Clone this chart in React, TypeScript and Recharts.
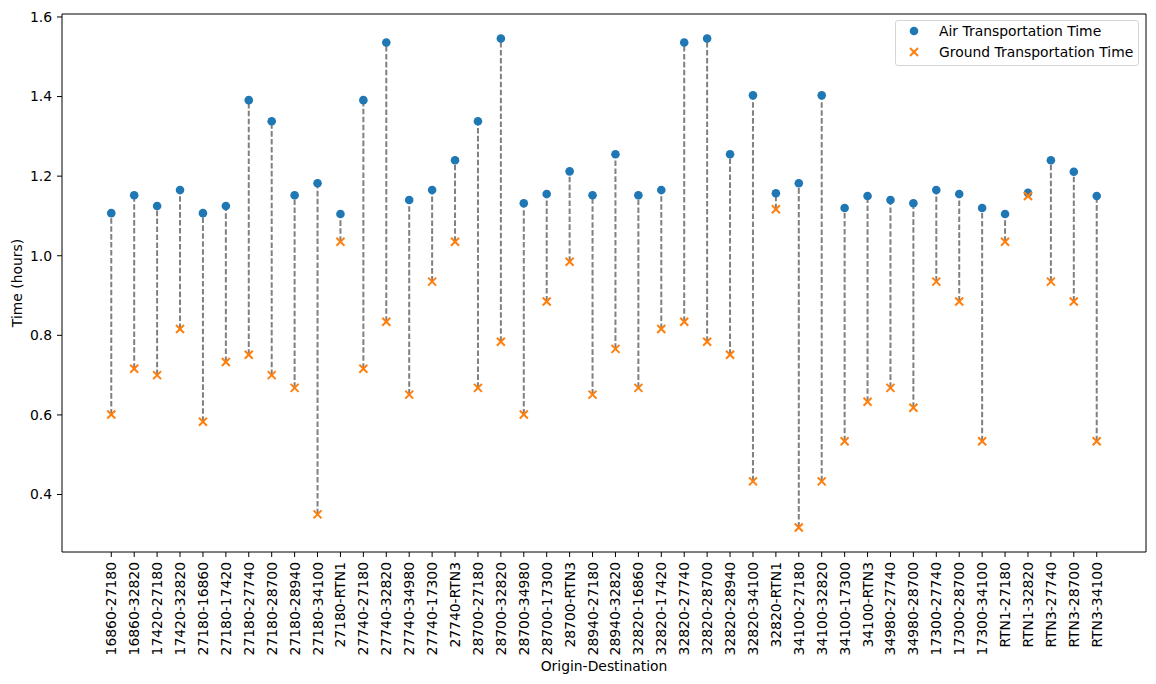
import React from 'react';
import {
  ComposedChart,
  Scatter,
  XAxis,
  YAxis,
  ReferenceLine,
} from 'recharts';

const categories = [
  '16860-27180', '16860-32820', '17420-27180', '17420-32820', '27180-16860',
  '27180-17420', '27180-27740', '27180-28700', '27180-28940', '27180-34100',
  '27180-RTN1', '27740-27180', '27740-32820', '27740-34980', '27740-17300',
  '27740-RTN3', '28700-27180', '28700-32820', '28700-34980', '28700-17300',
  '28700-RTN3', '28940-27180', '28940-32820', '32820-16860', '32820-17420',
  '32820-27740', '32820-28700', '32820-28940', '32820-34100', '32820-RTN1',
  '34100-27180', '34100-32820', '34100-17300', '34100-RTN3', '34980-27740',
  '34980-28700', '17300-27740', '17300-28700', '17300-34100', 'RTN1-27180',
  'RTN1-32820', 'RTN3-27740', 'RTN3-28700', 'RTN3-34100',
];

const airTime = [
  1.107, 1.152, 1.125, 1.165, 1.107, 1.125, 1.391, 1.338, 1.152, 1.182,
  1.105, 1.391, 1.536, 1.140, 1.165, 1.240, 1.338, 1.546, 1.132, 1.155,
  1.212, 1.152, 1.255, 1.152, 1.165, 1.536, 1.546, 1.255, 1.403, 1.157,
  1.182, 1.403, 1.120, 1.150, 1.140, 1.132, 1.165, 1.155, 1.120, 1.105,
  1.158, 1.240, 1.211, 1.150,
];

const groundTime = [
  0.601, 0.716, 0.700, 0.816, 0.583, 0.733, 0.751, 0.700, 0.668, 0.350,
  1.035, 0.716, 0.834, 0.651, 0.935, 1.035, 0.668, 0.784, 0.601, 0.885,
  0.985, 0.651, 0.766, 0.668, 0.816, 0.834, 0.784, 0.751, 0.433, 1.117,
  0.317, 0.433, 0.534, 0.633, 0.668, 0.618, 0.935, 0.885, 0.534, 1.035,
  1.150, 0.935, 0.885, 0.534,
];

const yTicks = [0.4, 0.6, 0.8, 1.0, 1.2, 1.4, 1.6];
const seriesNames = ['Air Transportation Time', 'Ground Transportation Time'];

const AIR = '#1f77b4';
const GROUND = '#ff7f0e';
const FONT = '"DejaVu Sans", sans-serif';
const FS = 13.9;

const airData = airTime.map((v, i) => ({ x: i, y: v }));
const groundData = groundTime.map((v, i) => ({ x: i, y: v }));
const xTickValues = categories.map((_, i) => i);

const allVals = [...airTime, ...groundTime];
const vMin = Math.min(...allVals);
const vMax = Math.max(...allVals);
const pad = (vMax - vMin) * 0.05;
const yDomain: [number, number] = [vMin - pad, vMax + pad];
const xPad = (categories.length - 1) * 0.05;
const xDomain: [number, number] = [-xPad, categories.length - 1 + xPad];

const CircleShape = (props: any) => {
  const { cx, cy } = props;
  if (cx == null || cy == null) return null;
  return <circle cx={cx} cy={cy} r={4.3} fill={AIR} />;
};

const CrossShape = (props: any) => {
  const { cx, cy } = props;
  if (cx == null || cy == null) return null;
  const d = 4;
  return (
    <g stroke={GROUND} strokeWidth={2}>
      <line x1={cx - d} y1={cy - d} x2={cx + d} y2={cy + d} />
      <line x1={cx - d} y1={cy + d} x2={cx + d} y2={cy - d} />
    </g>
  );
};

const XTick = (props: any) => {
  const { x, y, payload } = props;
  return (
    <text
      x={x}
      y={y}
      transform={`rotate(-90, ${x}, ${y})`}
      textAnchor="end"
      dominantBaseline="central"
      fontSize={FS}
      fontFamily={FONT}
      fill="#000"
    >
      {categories[payload.value]}
    </text>
  );
};

const YLabel = (props: any) => {
  const vb = props.viewBox || { x: 0, y: 0, width: 0, height: 0 };
  const cx = 17;
  const cy = vb.y + vb.height / 2;
  return (
    <text
      x={cx}
      y={cy}
      transform={`rotate(-90, ${cx}, ${cy})`}
      textAnchor="middle"
      dominantBaseline="central"
      fontSize={FS}
      fontFamily={FONT}
      fill="#000"
    >
      Time (hours)
    </text>
  );
};

const XLabel = (props: any) => {
  const vb = props.viewBox || { x: 0, y: 0, width: 0, height: 0 };
  return (
    <text
      x={vb.x + vb.width / 2}
      y={666}
      textAnchor="middle"
      dominantBaseline="central"
      fontSize={FS}
      fontFamily={FONT}
      fill="#000"
    >
      Origin-Destination
    </text>
  );
};

const LegendBox = () => (
  <div
    style={{
      position: 'absolute',
      left: 895,
      top: 20,
      width: 244,
      height: 46,
      boxSizing: 'border-box',
      border: '1px solid #d5d5d5',
      borderRadius: 3,
      background: 'rgba(255,255,255,0.8)',
      fontFamily: FONT,
      fontSize: FS,
      color: '#000',
    }}
  >
    <svg width={244} height={46} style={{ position: 'absolute', left: -1, top: -1 }}>
      <circle cx={19} cy={11} r={4.3} fill={AIR} />
      <g stroke={GROUND} strokeWidth={2}>
        <line x1={15} y1={28} x2={23} y2={36} />
        <line x1={15} y1={36} x2={23} y2={28} />
      </g>
      <text x={44} y={11} dominantBaseline="central" fontSize={FS} fontFamily={FONT} fill="#000">
        {seriesNames[0]}
      </text>
      <text x={44} y={32} dominantBaseline="central" fontSize={FS} fontFamily={FONT} fill="#000">
        {seriesNames[1]}
      </text>
    </svg>
  </div>
);

export default function App() {
  return (
    <div style={{ position: 'absolute', left: 0, top: 0, width: 1156, height: 684, background: '#fff' }}>
      <ComposedChart
        width={1156}
        height={684}
        margin={{ top: 14, right: 10, bottom: 0, left: 0 }}
      >
        <XAxis
          xAxisId={0}
          type="number"
          dataKey="x"
          domain={xDomain}
          ticks={xTickValues}
          interval={0}
          allowDataOverflow
          height={132}
          tickSize={5}
          tickMargin={5}
          tick={<XTick />}
          axisLine={{ stroke: '#000', strokeWidth: 1 }}
          tickLine={{ stroke: '#000', strokeWidth: 1 }}
          label={<XLabel />}
        />
        <YAxis
          yAxisId={0}
          type="number"
          dataKey="y"
          domain={yDomain}
          ticks={yTicks}
          allowDataOverflow
          width={62}
          tickSize={5}
          tickMargin={5}
          tickFormatter={(v: number) => v.toFixed(1)}
          tick={{ fontSize: FS, fontFamily: FONT, fill: '#000' }}
          axisLine={{ stroke: '#000', strokeWidth: 1 }}
          tickLine={{ stroke: '#000', strokeWidth: 1 }}
          label={<YLabel />}
        />
        <ReferenceLine xAxisId={0} yAxisId={0} y={yDomain[1]} stroke="#000" strokeWidth={1} />
        <ReferenceLine xAxisId={0} yAxisId={0} x={xDomain[1]} stroke="#000" strokeWidth={1} />
        <Scatter
          name={seriesNames[0]}
          data={airData}
          xAxisId={0}
          yAxisId={0}
          fill={AIR}
          shape={<CircleShape />}
          isAnimationActive={false}
        />
        <Scatter
          name={seriesNames[1]}
          data={groundData}
          xAxisId={0}
          yAxisId={0}
          fill={GROUND}
          shape={<CrossShape />}
          isAnimationActive={false}
        />
        {categories.map((c, i) => (
          <ReferenceLine
            key={c}
            xAxisId={0}
            yAxisId={0}
            segment={[
              { x: i, y: groundTime[i] },
              { x: i, y: airTime[i] },
            ]}
            stroke="#808080"
            strokeWidth={2}
            strokeDasharray="5.55 2.4"
          />
        ))}
      </ComposedChart>
      <LegendBox />
    </div>
  );
}
